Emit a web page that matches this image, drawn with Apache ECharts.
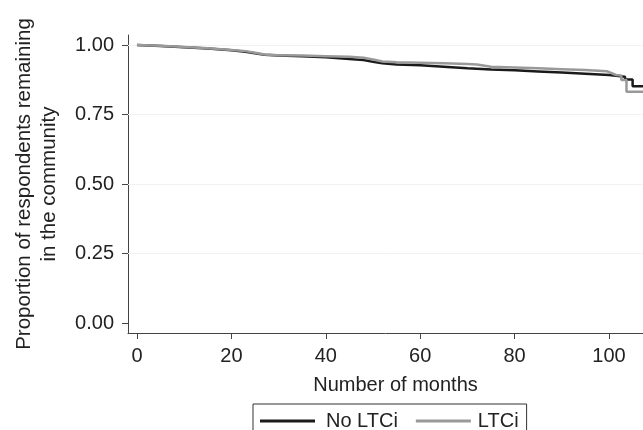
<!DOCTYPE html>
<html><head><meta charset="utf-8">
<script src="https://cdn.jsdelivr.net/npm/echarts@6/dist/echarts.min.js"></script>
<style>html,body{margin:0;padding:0;background:#fff}#c{width:643px;height:430px}</style>
</head><body><div id="c"></div>
<script>
const xTicks = [0, 20, 40, 60, 80, 100];
const yTicks = [0, 0.25, 0.5, 0.75, 1];
const gridValues = [0.25, 0.5, 0.75, 1];

const noLtciMonths = [0, 5, 10, 15, 20, 23, 25, 27, 30, 35, 40, 45, 48, 50, 52, 55, 60, 65, 70, 75, 80, 85, 90, 95, 100, 103.4, 103.4, 105, 105, 110];
const noLtciValues = [1.000, 0.996, 0.992, 0.987, 0.981, 0.976, 0.970, 0.965, 0.962, 0.960, 0.956, 0.950, 0.946, 0.940, 0.934, 0.930, 0.927, 0.922, 0.916, 0.912, 0.909, 0.905, 0.901, 0.897, 0.892, 0.886, 0.876, 0.876, 0.852, 0.852];

const ltciMonths = [0, 5, 10, 15, 20, 23, 25, 27, 30, 35, 40, 45, 48, 50, 52, 55, 60, 65, 70, 72, 75, 80, 85, 90, 95, 99.5, 101.5, 102.6, 102.6, 103.7, 103.7, 110];
const ltciValues = [1.000, 0.997, 0.993, 0.988, 0.982, 0.978, 0.972, 0.966, 0.963, 0.962, 0.960, 0.958, 0.954, 0.948, 0.941, 0.938, 0.936, 0.934, 0.932, 0.930, 0.922, 0.919, 0.916, 0.913, 0.910, 0.906, 0.892, 0.890, 0.874, 0.874, 0.832, 0.832];

const pairs = (xs, ys) => xs.map((x, i) => [x, ys[i]]);
const FONT = 'Liberation Sans, Arial, Helvetica, sans-serif';
const TXT = '#222';

const chart = echarts.init(document.getElementById('c'), null, {renderer: 'canvas'});
chart.setOption({
  animation: false,
  backgroundColor: '#fff',
  textStyle: {fontFamily: FONT},
  grid: {left: 128, top: 35, right: 0, bottom: 97, containLabel: false},
  xAxis: {
    type: 'value', min: -1.9, max: 107.2,
    name: 'Number of months', nameLocation: 'middle', nameGap: 42,
    nameTextStyle: {fontSize: 20, color: TXT, fontFamily: FONT, padding: [0, 0, 0, 20]},
    axisLine: {show: true, onZero: false, lineStyle: {color: '#444', width: 1}},
    axisTick: {show: true, length: 6, customValues: xTicks, lineStyle: {color: '#444'}},
    axisLabel: {customValues: xTicks, fontSize: 20, color: TXT, margin: 13, fontFamily: FONT},
    splitLine: {show: false}
  },
  yAxis: {
    type: 'value', min: -0.036, max: 1.036,
    name: 'Proportion of respondents remaining\nin the community',
    nameLocation: 'middle', nameGap: 66,
    nameTextStyle: {fontSize: 20.5, lineHeight: 25, color: TXT, fontFamily: FONT, align: 'center'},
    axisLine: {show: true, onZero: false, lineStyle: {color: '#444', width: 1}},
    axisTick: {show: true, length: 6, customValues: yTicks, lineStyle: {color: '#444'}},
    axisLabel: {customValues: yTicks, fontSize: 20, color: TXT, margin: 14, fontFamily: FONT,
      formatter: v => Number(v).toFixed(2)},
    splitLine: {show: false}
  },
  legend: {
    left: 253, top: 404,
    padding: [7, 8, 14, 7],
    borderColor: '#333', borderWidth: 1,
    itemWidth: 55, itemHeight: 3, itemGap: 18,
    icon: 'rect',
    textStyle: {fontSize: 20, color: TXT, fontFamily: FONT,
      rich: {a: {fontSize: 20, color: TXT, fontFamily: FONT, padding: [0, 0, 0, 6]},
             b: {fontSize: 20, color: TXT, fontFamily: FONT, padding: [0, 0, 0, 2]}}},
    formatter: n => n === 'No LTCi' ? '{a|' + n + '}' : '{b|' + n + '}',
    data: ['No LTCi', 'LTCi']
  },
  series: [
    {
      name: 'No LTCi', type: 'line', data: pairs(noLtciMonths, noLtciValues),
      showSymbol: false, symbol: 'none', color: '#1a1a1a',
      lineStyle: {color: '#1a1a1a', width: 2.5}, z: 3,
      markLine: {silent: true, symbol: 'none', label: {show: false},
        lineStyle: {color: '#f1f1f1', width: 1, type: 'solid'},
        data: gridValues.map(v => ({yAxis: v})), z: 1}
    },
    {
      name: 'LTCi', type: 'line', data: pairs(ltciMonths, ltciValues),
      showSymbol: false, symbol: 'none', color: '#999999',
      lineStyle: {color: '#999999', width: 2.5}, z: 4
    }
  ]
});
</script>
</body></html>
